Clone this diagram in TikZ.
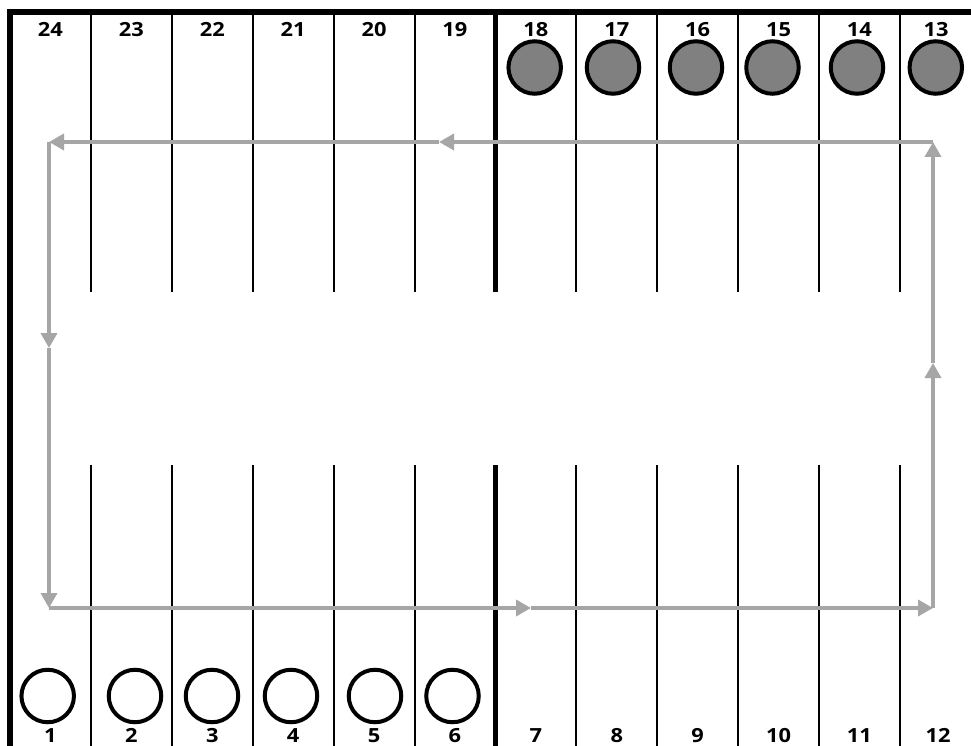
\documentclass[tikz,border=0pt]{standalone}
\usepackage{fontspec}
\setmainfont{Open Sans}
\newfontfamily\numfont[FakeStretch=1.12]{Open Sans}
\usetikzlibrary{arrows.meta}
\definecolor{flowgray}{RGB}{166,166,166}
\definecolor{stonegray}{RGB}{128,128,128}
\begin{document}
\begin{tikzpicture}[x=1pt,y=-1pt,
  thinrule/.style={line width=2pt},
  thickrule/.style={line width=5.5pt},
  num/.style={font=\numfont\bfseries\fontsize{19.5}{19.5}\selectfont, inner sep=0pt, anchor=center},
  emptystone/.style={circle, draw=black, line width=4pt, minimum size=52.5pt, inner sep=0pt, fill=white},
  darkstone/.style={emptystone, fill=stonegray},
  flow/.style={draw=flowgray, line width=3.5pt, -{Triangle[length=15pt,width=16pt]}}
]
\useasboundingbox (0,0) rectangle (971,746);
\fill[white] (0,0) rectangle (971,746);
% frame
\draw[thickrule] (7,12.2) -- (971,12.2);
\draw[thickrule] (10,9.5) -- (10,746);
% dividers
\foreach \i in {1,2,3,4,5,7,8,9,10,11} {
  \draw[thinrule] ({10+80.9*\i},12) -- ({10+80.9*\i},292);
  \draw[thinrule] ({10+80.9*\i},465) -- ({10+80.9*\i},746);
}
\draw[thickrule] ({10+80.9*6},12) -- ({10+80.9*6},292);
\draw[thickrule] ({10+80.9*6},465) -- ({10+80.9*6},746);
% top labels
\foreach \k/\t in {0/24,1/23,2/22,3/21,4/20,5/19,6/18,7/17,8/16,9/15,10/14} {
  \node[num] (l\t) at ({50.45+80.9*\k},29.5) {\t};
}
\node[num] (l13) at (936,29.5) {13};
% bottom labels
\foreach \k/\t in {0/1,1/2,2/3,3/4,4/5,5/6,6/7,7/8,8/9,9/10,10/11} {
  \node[num] (l\t) at ({50.45+80.9*\k},735.5) {\t};
}
\node[num] (l12) at (938,735.5) {12};
% stones
\node[emptystone] (s1) at (47.7,696) {};
\node[emptystone] (s2) at (135,696) {};
\node[emptystone] (s3) at (212,696) {};
\node[emptystone] (s4) at (291,696) {};
\node[emptystone] (s5) at (375,696) {};
\node[emptystone] (s6) at (452.5,696) {};
\node[darkstone] (s18) at (534.7,67.5) {};
\node[darkstone] (s17) at (613,67.5) {};
\node[darkstone] (s16) at (696,67.5) {};
\node[darkstone] (s15) at (772.5,67.5) {};
\node[darkstone] (s14) at (857,67.5) {};
\node[darkstone] (s13) at (935.8,67.5) {};
% flow path
\coordinate (A) at (933,142);
\coordinate (B) at (49,142);
\coordinate (C) at (49,608);
\coordinate (D) at (933,608);
\coordinate (M1) at (439,142);
\coordinate (M2) at (49,348);
\coordinate (M3) at (531,608);
\coordinate (M4) at (933,363);
\draw[flow] (A) -- (M1);
\draw[flow] (M1) -- (B);
\draw[flow] (B) -- (M2);
\draw[flow] (M2) -- (C);
\draw[flow] (C) -- (M3);
\draw[flow] (M3) -- (D);
\draw[flow] (D) -- (M4);
\draw[flow] (M4) -- (A);
\end{tikzpicture}
\end{document}
